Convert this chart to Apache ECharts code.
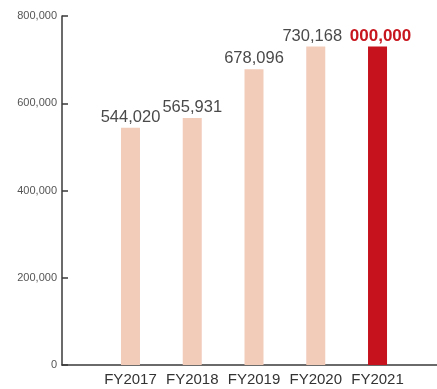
<!DOCTYPE html>
<html>
<head>
<meta charset="utf-8">
<script src="https://cdn.jsdelivr.net/npm/echarts@6/dist/echarts.min.js"></script>
<style>
  html, body { margin: 0; padding: 0; background: #ffffff; }
  #chart { width: 437px; height: 389px; }
</style>
</head>
<body>
<div id="chart"></div>
<script>
// Fiscal years shown on the category axis
const categories = ['FY2017', 'FY2018', 'FY2019', 'FY2020', 'FY2021'];
// Bar heights per fiscal year
const values = [544020, 565931, 678096, 730168, 730168];
// Text printed above each bar (latest year is still a placeholder figure)
const valueLabels = ['544,020', '565,931', '678,096', '730,168', '000,000'];
// Value axis ticks
const yTicks = [0, 200000, 400000, 600000, 800000];

const pastColor = '#f2cbb9';
const currentColor = '#c5121d';
const lastIndex = categories.length - 1;

const fmt = v => v === 0 ? '0' : v.toLocaleString('en-US');
const fontFamily = '"Liberation Sans", Arial, Helvetica, sans-serif';

// the two right-most labels are nudged apart so they do not touch
const labelShift = [0, 0, 0, -3.5, 3];

const chart = echarts.init(document.getElementById('chart'), null, { renderer: 'canvas' });

chart.setOption({
  animation: false,
  backgroundColor: '#ffffff',
  grid: [
    // frame grid: carries the value axis and the full-width baseline
    { left: 62, right: 0, top: 16, bottom: 24 },
    // plotting grid for the bars
    { left: 99.6, right: 28.6, top: 16, bottom: 24 }
  ],
  xAxis: [
    {
      gridIndex: 0, type: 'value', min: 0, max: 1,
      axisLine: { show: true, lineStyle: { color: '#3a3a3a', width: 1.5 } },
      axisTick: { show: false }, axisLabel: { show: false }, splitLine: { show: false }
    },
    {
      gridIndex: 1, type: 'category', data: categories,
      axisLine: { show: false }, axisTick: { show: false },
      axisLabel: { interval: 0, color: '#333333', fontSize: 15, fontFamily, margin: 7 }
    }
  ],
  yAxis: [
    {
      gridIndex: 0, type: 'value', min: yTicks[0], max: yTicks[yTicks.length - 1],
      interval: yTicks[1] - yTicks[0],
      axisLine: { show: true, lineStyle: { color: '#3a3a3a', width: 1.5 } },
      axisTick: { show: true, inside: true, length: 6, lineStyle: { color: '#3a3a3a', width: 1.5 } },
      axisLabel: { color: '#555555', fontSize: 11, fontFamily, margin: 5, formatter: fmt },
      splitLine: { show: false }
    },
    {
      gridIndex: 1, type: 'value', min: yTicks[0], max: yTicks[yTicks.length - 1],
      show: false, splitLine: { show: false }
    }
  ],
  series: [{
    type: 'bar',
    xAxisIndex: 1,
    yAxisIndex: 1,
    barWidth: 19,
    data: values.map((v, i) => ({
      value: v,
      itemStyle: { color: i === lastIndex ? currentColor : pastColor },
      label: i === lastIndex
        ? { color: '#c8161e', fontWeight: 'bold', fontSize: 17, offset: [labelShift[i], 0] }
        : { color: '#4a4a4a', fontWeight: 'normal', fontSize: 16.5, offset: [labelShift[i], 0] }
    })),
    label: {
      show: true,
      position: 'top',
      distance: 2,
      fontFamily,
      formatter: p => valueLabels[p.dataIndex]
    }
  }]
});
</script>
</body>
</html>
